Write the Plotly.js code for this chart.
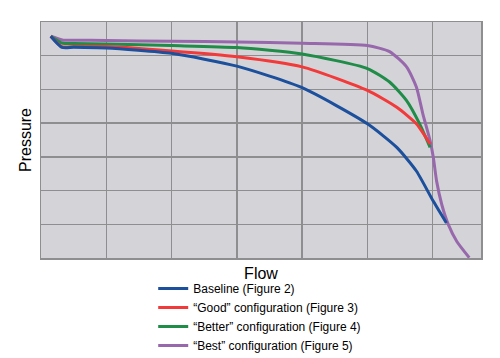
<!DOCTYPE html>
<html><head><meta charset="utf-8">
<script src="https://cdn.plot.ly/plotly-3.0.1.min.js"></script>
<style>html,body{margin:0;padding:0;background:#fff}#c{width:500px;height:358px}</style>
</head><body><div id="c"></div>
<script>
const seriesNames = ['Baseline (Figure 2)', '\u201CGood\u201D configuration (Figure 3)', '\u201CBetter\u201D configuration (Figure 4)', '\u201CBest\u201D configuration (Figure 5)'];
const colors = ['#1c4f9c', '#f23a3a', '#1f8c48', '#9868ad'];

const baseX = [0.15, 0.32, 0.5, 1.0, 2.0, 3.0, 4.0, 5.0, 5.45, 5.75, 6.01, 6.21];
const baseY = [6.58, 6.25, 6.25, 6.23, 6.07, 5.69, 5.05, 3.98, 3.28, 2.58, 1.68, 1.04];

const goodX = [0.15, 0.32, 0.5, 1.0, 2.0, 3.0, 4.0, 5.0, 5.45, 5.75, 5.96];
const goodY = [6.58, 6.27, 6.27, 6.27, 6.14, 5.97, 5.67, 4.97, 4.47, 3.98, 3.38];

const betterX = [0.15, 0.33, 0.5, 1.0, 2.0, 3.0, 4.0, 5.0, 5.34, 5.6, 5.8, 5.96];
const betterY = [6.58, 6.37, 6.36, 6.35, 6.30, 6.24, 6.05, 5.62, 5.22, 4.67, 3.98, 3.28];

const bestX = [0.15, 0.34, 0.5, 1.0, 2.0, 3.0, 4.0, 5.0, 5.34, 5.6, 5.75, 5.85, 5.96, 6.01, 6.06, 6.14, 6.24, 6.37, 6.56];
const bestY = [6.58, 6.46, 6.46, 6.45, 6.43, 6.41, 6.37, 6.30, 6.12, 5.67, 5.07, 4.27, 3.48, 2.98, 2.28, 1.58, 0.99, 0.49, 0.01];

const xs = [baseX, goodX, betterX, bestX];
const ys = [baseY, goodY, betterY, bestY];

const traces = [3,2,1,0].map(i => ({
  x: xs[i], y: ys[i], name: seriesNames[i], type: 'scatter', mode: 'lines',
  line: {color: colors[i], width: 3, shape: 'spline', smoothing: 0.6},
  legendrank: i + 1
}));

const layout = {
  width: 500, height: 358,
  margin: {l: 41, r: 19, t: 22, b: 100, autoexpand: false},
  paper_bgcolor: '#ffffff', plot_bgcolor: '#d4d4d8',
  font: {family: 'Liberation Sans, Arial, sans-serif', color: '#000'},
  showlegend: true,
  legend: {x: 0.255, y: -0.068, xanchor: 'left', yanchor: 'top', bgcolor: 'rgba(0,0,0,0)',
           font: {size: 12}, itemwidth: 30, tracegroupgap: 0, traceorder: 'normal'},
  xaxis: {range: [0, 6.74], dtick: 1, tick0: 0, showticklabels: false, ticks: '',
          showgrid: true, gridcolor: '#8e8e90', gridwidth: 1.5, zeroline: false,
          showline: true, mirror: true, linecolor: '#8e8e90', linewidth: 1.5,
          title: {text: 'Flow', font: {size: 16}, standoff: 9}},
  yaxis: {range: [0, 7], dtick: 1, tick0: 0, showticklabels: false, ticks: '',
          showgrid: true, gridcolor: '#8e8e90', gridwidth: 1.5, zeroline: false,
          showline: true, mirror: true, linecolor: '#8e8e90', linewidth: 1.5,
          title: {text: 'Pressure', font: {size: 16}, standoff: 4}}
};
Plotly.newPlot('c', traces, layout, {displayModeBar: false, staticPlot: true});
</script></body></html>
